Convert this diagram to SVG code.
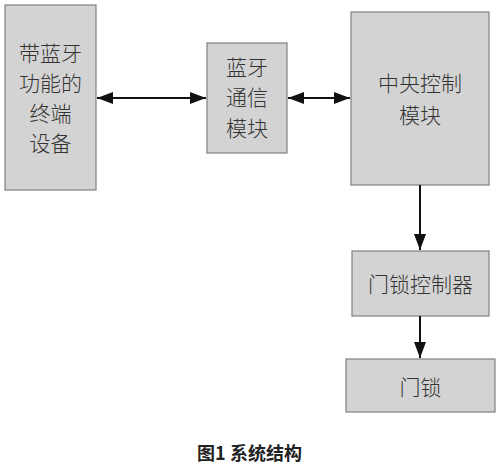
<svg xmlns="http://www.w3.org/2000/svg" width="504" height="470" viewBox="0 0 504 470">
<style>
.box{fill:#d3d3d3;stroke:#808080;stroke-width:1.2}
.t{font-family:"Noto Sans CJK SC","Noto Sans",sans-serif;font-size:21px;font-weight:300;fill:#333;text-anchor:middle}
.ln{stroke:#111;stroke-width:2;fill:none}
.cap{font-family:"Noto Sans CJK SC","Liberation Sans",sans-serif;font-size:18px;font-weight:bold;fill:#222}
</style>
<defs>
<marker id="ah" markerWidth="16" markerHeight="12" refX="16" refY="6" orient="auto-start-reverse" markerUnits="userSpaceOnUse">
<path d="M0,0 L16,6 L0,12 Z" fill="#111"/>
</marker>
</defs>
<rect width="504" height="470" fill="#fff"/>
<g id="n1"><rect class="box" x="5" y="5" width="91" height="185"/>
<text class="t" x="50.5" y="61">带蓝牙</text>
<text class="t" x="50.5" y="91">功能的</text>
<text class="t" x="50.5" y="121">终端</text>
<text class="t" x="50.5" y="151">设备</text></g>
<g id="n2"><rect class="box" x="207" y="43" width="80" height="110"/>
<text class="t" x="247" y="75">蓝牙</text>
<text class="t" x="247" y="105">通信</text>
<text class="t" x="247" y="136">模块</text></g>
<g id="n3"><rect class="box" x="351" y="12" width="138" height="173"/>
<text class="t" x="420" y="91">中央控制</text>
<text class="t" x="420" y="123">模块</text></g>
<g id="n4"><rect class="box" x="352" y="251" width="137" height="65"/>
<text class="t" x="420.5" y="292">门锁控制器</text></g>
<g id="n5"><rect class="box" x="346" y="359" width="149" height="53"/>
<text class="t" x="420.5" y="395">门锁</text></g>
<g id="edges">
<line class="ln" x1="97" y1="98" x2="206" y2="98" marker-start="url(#ah)" marker-end="url(#ah)"/>
<line class="ln" x1="288" y1="98" x2="350" y2="98" marker-start="url(#ah)" marker-end="url(#ah)"/>
<line class="ln" x1="420" y1="185" x2="420" y2="250" marker-end="url(#ah)"/>
<line class="ln" x1="420" y1="316" x2="420" y2="358" marker-end="url(#ah)"/>
</g>
<text class="cap" y="460"><tspan x="197">图1</tspan><tspan x="230">系统结构</tspan></text>
</svg>
